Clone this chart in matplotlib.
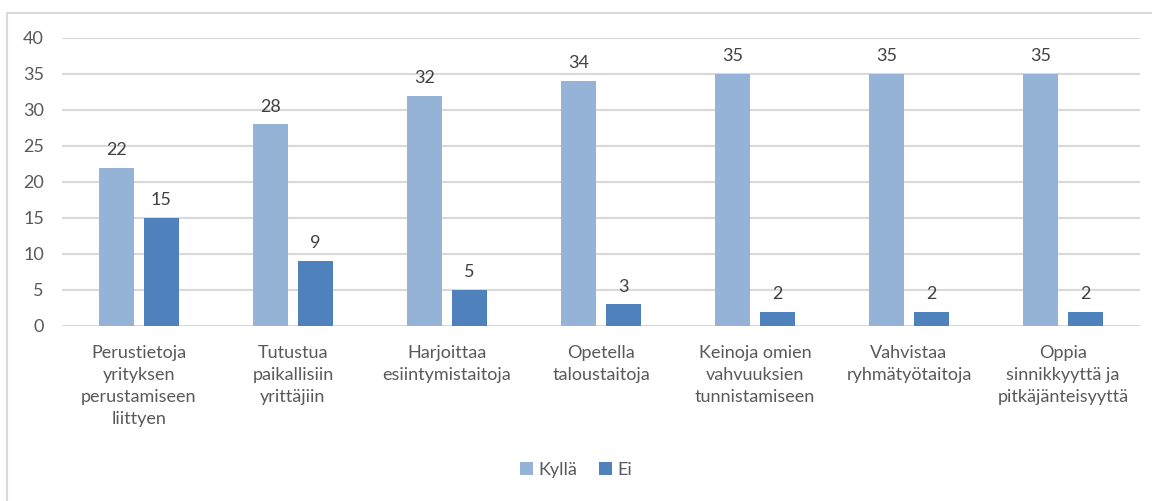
import numpy as np
import matplotlib.pyplot as plt
from matplotlib.patches import Rectangle

categories = [
    "Perustietoja\nyrityksen\nperustamiseen\nliittyen",
    "Tutustua\npaikallisiin\nyrittäjiin",
    "Harjoittaa\nesiintymistaitoja",
    "Opetella\ntaloustaitoja",
    "Keinoja omien\nvahvuuksien\ntunnistamiseen",
    "Vahvistaa\nryhmätyötaitoja",
    "Oppia\nsinnikkyyttä ja\npitkäjänteisyyttä",
]
kylla = [22, 28, 32, 34, 35, 35, 35]
ei = [15, 9, 5, 3, 2, 2, 2]
yticks = [0, 5, 10, 15, 20, 25, 30, 35, 40]

plt.rcParams['font.family'] = ['Lato', 'DejaVu Sans']
text_col = '#595959'

fig = plt.figure(figsize=(11.52, 5.01), dpi=100)
ax = fig.add_axes([62 / 1152, 1 - 326 / 501, (1140 - 62) / 1152, (326 - 38) / 501])

# chart border
fig.patches.append(Rectangle((7 / 1152, -0.05), 1.1, 1 - 13 / 501 + 0.05,
                             transform=fig.transFigure, fill=False,
                             edgecolor='#D9D9D9', linewidth=1.5))

x = np.arange(len(categories))
w = 0.227
gap = 0.03
b1 = ax.bar(x - w / 2 - gap, kylla, w, color='#95B3D7', label='Kyllä', zorder=3)
b2 = ax.bar(x + w / 2 + gap, ei, w, color='#4F81BD', label='Ei', zorder=3)
for bars in (b1, b2):
    ax.bar_label(bars, padding=7, fontsize=13, color='#404040')

ax.set_xlim(-0.5, len(categories) - 0.5)
ax.set_ylim(0, 40)
ax.set_yticks(yticks)
ax.set_xticks(x)
ax.set_xticklabels(categories, fontsize=13, color=text_col, linespacing=1.45)
ax.tick_params(axis='y', labelsize=13, labelcolor=text_col, length=0, pad=13)
ax.tick_params(axis='x', length=0, pad=14)
ax.grid(axis='y', color='#D9D9D9', linewidth=1.5, zorder=0)
for s in ax.spines.values():
    s.set_visible(False)

ax.legend(loc='center', bbox_to_anchor=(0.5, 1 - 470 / 501), bbox_transform=fig.transFigure,
          ncol=2, frameon=False, fontsize=13, labelcolor=text_col,
          handlelength=0.7, handleheight=0.7, handletextpad=0.3, columnspacing=1.2)

fig.savefig('out.png', dpi=100)
